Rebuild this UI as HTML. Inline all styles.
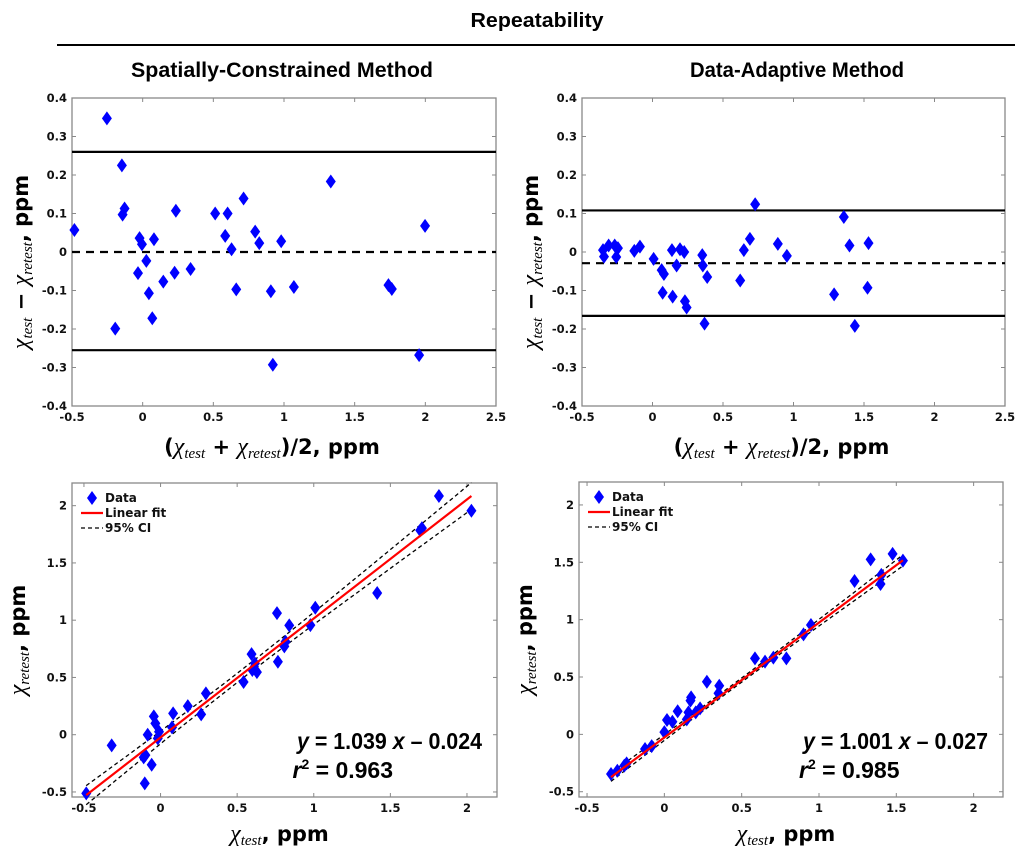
<!DOCTYPE html>
<html><head><meta charset="utf-8"><style>
html,body{margin:0;padding:0;background:#fff;}
svg{display:block;}
.tk{font-family:"DejaVu Sans",sans-serif;font-weight:bold;font-size:11.5px;fill:#111;}
.ttl{font-family:"Liberation Sans Narrow","Liberation Sans",sans-serif;font-weight:bold;fill:#000;}
.ax{font-family:"DejaVu Sans",sans-serif;font-size:21px;font-weight:bold;fill:#000;}
.chi{font-family:"Liberation Serif",serif;font-style:italic;font-weight:normal;}
.lg{font-family:"DejaVu Sans",sans-serif;font-weight:bold;font-size:12px;fill:#111;}
.eq{font-family:"Liberation Sans",sans-serif;font-weight:bold;font-size:23px;fill:#000;}
</style></head><body>
<svg id="fig" width="1027" height="862" viewBox="0 0 1027 862" xmlns="http://www.w3.org/2000/svg">
<text class="ttl" x="537" y="27" font-size="20" text-anchor="middle" textLength="133" lengthAdjust="spacingAndGlyphs">Repeatability</text>
<line x1="57" y1="45" x2="1015" y2="45" stroke="#000" stroke-width="2"/>
<text class="ttl" x="282" y="77" font-size="21" text-anchor="middle" textLength="302" lengthAdjust="spacingAndGlyphs">Spatially-Constrained Method</text>
<text class="ttl" x="797" y="77" font-size="21" text-anchor="middle" textLength="214" lengthAdjust="spacingAndGlyphs">Data-Adaptive Method</text>
</svg>
<script>
// ---------- Data ----------
const baLeftX=[-0.483,-0.253,-0.147,-0.128,-0.142,-0.194,-0.022,-0.005,-0.033,0.026,0.044,0.068,0.080,0.146,0.226,0.235,0.339,0.513,0.584,0.601,0.629,0.662,0.714,0.796,0.825,0.907,0.921,0.980,1.070,1.331,1.739,1.763,1.956,1.998];
const baLeftY=[0.057,0.347,0.225,0.113,0.097,-0.199,0.036,0.020,-0.055,-0.023,-0.107,-0.172,0.033,-0.077,-0.054,0.107,-0.044,0.100,0.042,0.100,0.007,-0.097,0.139,0.053,0.023,-0.102,-0.293,0.028,-0.091,0.183,-0.086,-0.096,-0.268,0.068];
const baLeftLines=[0.26,0.0,-0.255]; // upper LoA, mean, lower LoA
const baRightX=[-0.351,-0.344,-0.311,-0.268,-0.257,-0.245,-0.129,-0.089,0.008,0.065,0.081,0.072,0.138,0.143,0.171,0.195,0.225,0.230,0.242,0.353,0.357,0.369,0.388,0.622,0.648,0.691,0.728,0.889,0.953,1.288,1.357,1.397,1.435,1.525,1.532];
const baRightY=[0.005,-0.012,0.017,0.017,-0.013,0.010,0.003,0.014,-0.018,-0.047,-0.057,-0.106,0.005,-0.116,-0.035,0.007,0.000,-0.128,-0.144,-0.008,-0.035,-0.186,-0.065,-0.074,0.005,0.034,0.124,0.021,-0.010,-0.110,0.091,0.017,-0.192,-0.093,0.023];
const baRightLines=[0.108,-0.029,-0.166];
const baTicksX=[-0.5,0,0.5,1,1.5,2,2.5];
const baTicksY=[-0.4,-0.3,-0.2,-0.1,0,0.1,0.2,0.3,0.4];

const scLeftX=[-0.485,-0.319,-0.110,-0.099,-0.103,-0.084,-0.058,-0.044,-0.034,-0.018,-0.010,0.075,0.082,0.178,0.265,0.296,0.542,0.594,0.599,0.616,0.629,0.760,0.766,0.808,0.816,0.840,0.978,1.010,1.414,1.695,1.706,1.817,2.029];
const scLeftY=[-0.512,-0.093,-0.198,-0.178,-0.425,0.000,-0.262,0.160,0.099,-0.032,0.026,0.064,0.186,0.250,0.178,0.361,0.460,0.704,0.565,0.623,0.547,1.062,0.637,0.771,0.812,0.955,0.957,1.109,1.237,1.784,1.804,2.084,1.956];
const scLeftFit=[1.039,-0.024];
const scRightX=[-0.345,-0.304,-0.259,-0.244,-0.125,-0.082,0.000,0.017,0.052,0.086,0.145,0.156,0.169,0.173,0.203,0.231,0.275,0.350,0.355,0.586,0.651,0.705,0.789,0.900,0.948,1.230,1.334,1.398,1.403,1.476,1.543];
const scRightY=[-0.346,-0.317,-0.273,-0.253,-0.128,-0.102,0.020,0.125,0.110,0.201,0.131,0.192,0.294,0.323,0.192,0.227,0.459,0.358,0.424,0.663,0.634,0.669,0.663,0.872,0.953,1.337,1.526,1.311,1.390,1.573,1.515];
const scRightFit=[1.001,-0.027];
const scTicksX=[-0.5,0,0.5,1,1.5,2];
const scTicksY=[-0.5,0,0.5,1,1.5,2];

const NS="http://www.w3.org/2000/svg";
const fig=document.getElementById('fig');
function mk(tag,attrs,parent){const e=document.createElementNS(NS,tag);for(const k in attrs)e.setAttribute(k,attrs[k]);(parent||fig).appendChild(e);return e;}
function fmt(v){return (Math.abs(v)<1e-9)?'0':String(v);}

function makeAxes(g,box,xd,yd,tx,ty){
  const sx=v=>box.x0+(v-xd[0])/(xd[1]-xd[0])*(box.x1-box.x0);
  const sy=v=>box.y1-(v-yd[0])/(yd[1]-yd[0])*(box.y1-box.y0);
  const fr=mk('rect',{x:box.x0,y:box.y0,width:box.x1-box.x0,height:box.y1-box.y0,fill:'none',stroke:'#888','stroke-width':1.3},g);
  
  
  tx.forEach(v=>{
    const X=sx(v);
    mk('line',{x1:X,y1:box.y1,x2:X,y2:box.y1-4,stroke:'#888'},g);
    mk('line',{x1:X,y1:box.y0,x2:X,y2:box.y0+4,stroke:'#888'},g);
    const t=mk('text',{x:X,y:box.y1+15,'text-anchor':'middle',class:'tk'},g);
    t.textContent=fmt(v);
    
    
  });
  ty.forEach(v=>{
    const Y=sy(v);
    mk('line',{x1:box.x0,y1:Y,x2:box.x0+4,y2:Y,stroke:'#888'},g);
    mk('line',{x1:box.x1,y1:Y,x2:box.x1-4,y2:Y,stroke:'#888'},g);
    const t=mk('text',{x:box.x0-5,y:Y+4,'text-anchor':'end',class:'tk'},g);
    t.textContent=fmt(v);
    
    
  });
  return {sx,sy};
}
function diamond(g,X,Y){
  const d=mk('polygon',{points:`${X},${Y-7} ${X+5},${Y} ${X},${Y+7} ${X-5},${Y}`,fill:'#0000ff'},g);
  
  
}

function baPlot(name,box,xs,ys,lines){
  const g=mk('g',{});
  
  
  const a=makeAxes(g,box,[-0.5,2.5],[-0.4,0.4],baTicksX,baTicksY);
  lines.forEach((v,i)=>{
    const l=mk('line',{x1:box.x0,x2:box.x1,y1:a.sy(v),y2:a.sy(v),stroke:'#000','stroke-width':2.2},g);
    if(i===1)l.setAttribute('stroke-dasharray','8,6');
    
    
  });
  xs.forEach((x,i)=>diamond(g,a.sx(x),a.sy(ys[i])));
  const cx=(box.x0+box.x1)/2;
  const xl=mk('text',{x:cx-12,y:box.y1+48,'text-anchor':'middle',class:'ax'},g);
  xl.innerHTML='(<tspan class="chi" font-size="24">χ</tspan><tspan class="chi" font-size="15" dy="4">test</tspan><tspan dy="-4"> + </tspan><tspan class="chi" font-size="24">χ</tspan><tspan class="chi" font-size="15" dy="4">retest</tspan><tspan dy="-4">)/2, ppm</tspan>';
  
  
  const yl=mk('text',{x:0,y:0,'text-anchor':'middle',class:'ax',transform:`translate(${box.x0-44},${(box.y0+box.y1)/2+10}) rotate(-90)`},g);
  yl.innerHTML='<tspan class="chi" font-size="24">χ</tspan><tspan class="chi" font-size="15" dy="4">test</tspan><tspan dy="-4"> − </tspan><tspan class="chi" font-size="24">χ</tspan><tspan class="chi" font-size="15" dy="4">retest</tspan><tspan dy="-4">, ppm</tspan>';
  
  
}

function scPlot(name,box,xd,yd,xs,ys,fit,ciW,eq,r2){
  const g=mk('g',{});
  
  
  const a=makeAxes(g,box,xd,yd,scTicksX,scTicksY);
  const xmin=Math.min(...xs),xmax=Math.max(...xs);
  const xm=xs.reduce((s,v)=>s+v,0)/xs.length;
  const span=Math.max(xmax-xm,xm-xmin);
  [1,-1].forEach(sgn=>{
    let p='';
    for(let i=0;i<=40;i++){
      const x=xmin+(xmax-xmin)*i/40;
      const hw=Math.sqrt(ciW[0]*ciW[0]+Math.pow(ciW[1]*(x-xm)/span,2));
      const y=fit[0]*x+fit[1]+sgn*hw;
      p+=(i?'L':'M')+a.sx(x).toFixed(1)+','+a.sy(y).toFixed(1);
    }
    const c=mk('path',{d:p,fill:'none',stroke:'#000','stroke-width':1.3,'stroke-dasharray':'4,3'},g);
    
    
  });
  xs.forEach((x,i)=>diamond(g,a.sx(x),a.sy(ys[i])));
  const fl=mk('line',{x1:a.sx(xmin),y1:a.sy(fit[0]*xmin+fit[1]),x2:a.sx(xmax),y2:a.sy(fit[0]*xmax+fit[1]),stroke:'#ff0000','stroke-width':2.2},g);
  
  
  // legend
  const lx=box.x0+9, ly=box.y0+15;
  diamond(g,lx+11,ly);
  const t1=mk('text',{x:lx+24,y:ly+4,class:'lg'},g);t1.textContent='Data';
  
  
  mk('line',{x1:lx,x2:lx+22,y1:ly+15,y2:ly+15,stroke:'#ff0000','stroke-width':2.2},g);
  const t2=mk('text',{x:lx+24,y:ly+19,class:'lg'},g);t2.textContent='Linear fit';
  
  
  mk('line',{x1:lx,x2:lx+22,y1:ly+30,y2:ly+30,stroke:'#000','stroke-width':1.3,'stroke-dasharray':'4,3'},g);
  const t3=mk('text',{x:lx+24,y:ly+34,class:'lg'},g);t3.textContent='95% CI';
  
  
  // equation
  const e1=mk('text',{x:box.x1-15,y:box.y1-48,'text-anchor':'end',class:'eq',textLength:185,lengthAdjust:'spacingAndGlyphs'},g);
  e1.innerHTML='<tspan font-style="italic">y</tspan> = '+eq[0]+' <tspan font-style="italic">x</tspan> – '+eq[1];
  
  
  const e2=mk('text',{x:box.x0+(box.x1-box.x0)*0.5+8,y:box.y1-19,class:'eq'},g);
  e2.innerHTML='<tspan font-style="italic">r</tspan><tspan font-size="14" dy="-9">2</tspan><tspan dy="9"> = '+r2+'</tspan>';
  
  
  const cx=(box.x0+box.x1)/2;
  const xl=mk('text',{x:cx-5,y:box.y1+44,'text-anchor':'middle',class:'ax'},g);
  xl.innerHTML='<tspan class="chi" font-size="24">χ</tspan><tspan class="chi" font-size="15" dy="4">test</tspan><tspan dy="-4">, ppm</tspan>';
  
  
  const yl=mk('text',{x:0,y:0,'text-anchor':'middle',class:'ax',transform:`translate(${box.x0-47},${(box.y0+box.y1)/2}) rotate(-90)`},g);
  yl.innerHTML='<tspan class="chi" font-size="24">χ</tspan><tspan class="chi" font-size="15" dy="4">retest</tspan><tspan dy="-4">, ppm</tspan>';
  
  
}

baPlot('bland-altman-spatially-constrained',{x0:72,x1:496,y0:98,y1:406},baLeftX,baLeftY,baLeftLines);
baPlot('bland-altman-data-adaptive',{x0:582,x1:1005,y0:98,y1:406},baRightX,baRightY,baRightLines);
scPlot('scatter-spatially-constrained',{x0:72,x1:497,y0:483,y1:797},[-0.578,2.196],[-0.544,2.198],scLeftX,scLeftY,scLeftFit,[0.04,0.11],['1.039','0.024'],'0.963');
scPlot('scatter-data-adaptive',{x0:579,x1:1003,y0:482,y1:797},[-0.552,2.19],[-0.546,2.2],scRightX,scRightY,scRightFit,[0.018,0.045],['1.001','0.027'],'0.985');
</script>
</body></html>
